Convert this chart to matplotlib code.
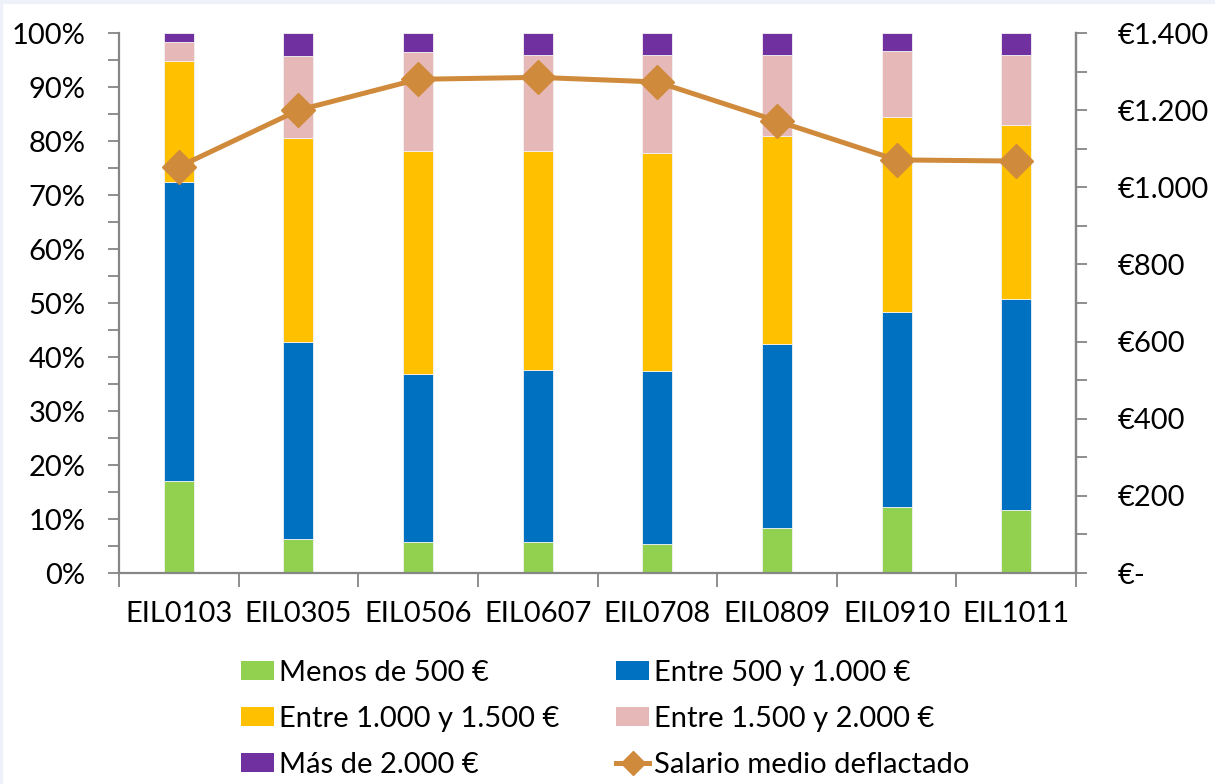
import matplotlib
matplotlib.use("Agg")
import matplotlib.pyplot as plt
import numpy as np
from matplotlib.patches import Patch, Rectangle
from matplotlib.lines import Line2D
from matplotlib.ticker import MultipleLocator, FixedLocator, FuncFormatter

plt.rcParams['font.family'] = ['Lato', 'DejaVu Sans']

categories = ["EIL0103", "EIL0305", "EIL0506", "EIL0607", "EIL0708", "EIL0809", "EIL0910", "EIL1011"]
menos_500 = [17.0, 6.3, 5.8, 5.8, 5.4, 8.4, 12.3, 11.7]
entre_500_1000 = [55.4, 36.5, 31.1, 31.8, 32.0, 34.0, 36.0, 39.0]
entre_1000_1500 = [22.5, 37.8, 41.3, 40.6, 40.3, 38.6, 36.2, 32.3]
entre_1500_2000 = [3.5, 15.1, 18.2, 17.7, 18.2, 14.9, 12.1, 12.9]
mas_2000 = [1.6, 4.3, 3.6, 4.1, 4.1, 4.1, 3.4, 4.1]
salario = [1053, 1200, 1280, 1285, 1273, 1172, 1071, 1068]

series_names = ["Menos de 500 €", "Entre 500 y 1.000 €", "Entre 1.000 y 1.500 €",
                "Entre 1.500 y 2.000 €", "Más de 2.000 €"]
series_colors = ["#92D050", "#0070C0", "#FFC000", "#E6B9B8", "#7030A0"]
line_name = "Salario medio deflactado"
line_color = "#D08A3C"

W, H = 1215, 784
fig = plt.figure(figsize=(W / 100, H / 100), dpi=100)
fig.patch.set_facecolor("white")
# light slide border
fig.add_artist(Rectangle((0, 1 - 3 / H), 1, 3 / H, transform=fig.transFigure, color="#EEF0FA", zorder=0))
fig.add_artist(Rectangle((0, 0), 2 / W, 1, transform=fig.transFigure, color="#EEF0FA", zorder=0))

ax = fig.add_axes([119 / W, 1 - 573 / H, (1076 - 119) / W, (573 - 33) / H])
x = np.arange(len(categories))
bottom = np.zeros(len(categories))
series = [menos_500, entre_500_1000, entre_1000_1500, entre_1500_2000, mas_2000]
for vals, col in zip(series, series_colors):
    ax.bar(x, vals, width=0.25, bottom=bottom, color=col, edgecolor="#F2F2F2", linewidth=0.6, zorder=2)
    bottom += np.array(vals)

ax.set_xlim(-0.5, len(categories) - 0.5)
ax.set_ylim(0, 100)
gray = "#868686"
ax.spines["top"].set_visible(False)
for s in ["left", "bottom", "right"]:
    ax.spines[s].set_color(gray)
    ax.spines[s].set_linewidth(1.6)

fs = 21
ax.yaxis.set_major_locator(MultipleLocator(10))
ax.yaxis.set_minor_locator(MultipleLocator(5))
ax.yaxis.set_major_formatter(FuncFormatter(lambda v, p: f"{int(round(v))}%"))
ax.tick_params(axis="y", which="both", direction="out", length=8, width=1.3, color=gray,
               labelsize=fs, pad=16)

ax.xaxis.set_major_locator(FixedLocator(np.arange(-0.5, len(categories), 1.0)))
ax.xaxis.set_major_formatter(FuncFormatter(lambda v, p: ""))
ax.set_xticks(x, minor=True)
ax.set_xticklabels(categories, minor=True)
ax.tick_params(axis="x", which="major", direction="out", length=10, width=1.3, color=gray)
ax.tick_params(axis="x", which="minor", length=0, labelsize=fs, pad=20)

ax2 = ax.twinx()
ax2.plot(x, salario, color=line_color, linewidth=3.6, marker="D", markersize=17,
         markeredgecolor=line_color, zorder=5)
ax2.set_ylim(0, 1400)
ax2.yaxis.set_major_locator(MultipleLocator(200))
ax2.yaxis.set_minor_locator(MultipleLocator(100))

def eur(v, p):
    v = int(round(v))
    if v == 0:
        return "€-"
    return "€" + f"{v:,}".replace(",", ".")

ax2.yaxis.set_major_formatter(FuncFormatter(eur))
ax2.tick_params(axis="y", which="both", direction="out", length=8, width=1.3, color=gray,
                labelsize=fs, pad=22)
for s in ["top", "left", "bottom"]:
    ax2.spines[s].set_visible(False)
ax2.spines["right"].set_color(gray)
ax2.spines["right"].set_linewidth(1.6)

patches = [Patch(facecolor=c, edgecolor="none", label=n) for c, n in zip(series_colors, series_names)]
line_h = Line2D([0], [0], color=line_color, linewidth=3.6, marker="D", markersize=12, label=line_name)
handles = [patches[0], patches[2], patches[4], patches[1], patches[3], line_h]
leg = fig.legend(handles=handles, ncol=2, loc="upper left",
                 bbox_to_anchor=(241 / W, 1 - 660 / H), frameon=False,
                 fontsize=fs, handlelength=1.13, handleheight=0.65, handletextpad=0.17,
                 columnspacing=1.95, labelspacing=0.68, borderpad=0, borderaxespad=0)

fig.savefig("out.png", dpi=100)
